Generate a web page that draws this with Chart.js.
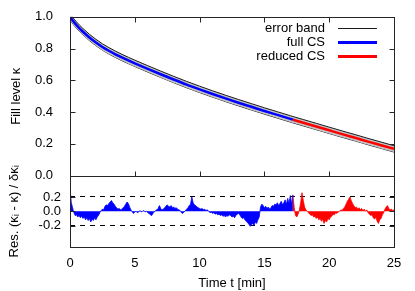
<!DOCTYPE html>
<html>
<head>
<meta charset="utf-8">
<script src="https://cdn.jsdelivr.net/npm/chart.js@4/dist/chart.umd.min.js"></script>
<style>
  html, body { margin: 0; padding: 0; background: #fff; }
  canvas { display: block; }
</style>
</head>
<body>
<canvas id="c" width="415" height="291"></canvas>
<script>
'use strict';

// ── Fill level κ(t) ───────────────────────────────────
const fitTime  = [0, 0.25, 0.5, 0.75, 1, 1.5, 2, 2.5, 3, 3.5, 4, 4.5, 5, 6, 7, 8, 9, 10,
                  11, 12, 13, 14, 15, 16, 17, 17.2, 18, 19, 20, 21, 22, 23, 24, 25];
const fitKappa = [1.000, 0.972, 0.948, 0.926, 0.906, 0.870, 0.838, 0.810, 0.786, 0.764, 0.744, 0.725,
                  0.707, 0.672, 0.638, 0.605, 0.573, 0.543, 0.514, 0.486, 0.459, 0.433, 0.407, 0.382,
                  0.357, 0.352, 0.333, 0.309, 0.285, 0.261, 0.238, 0.214, 0.191, 0.168];
const bandHigh = [1.020, 0.992, 0.968, 0.946, 0.926, 0.890, 0.858, 0.830, 0.806, 0.784, 0.764, 0.745,
                  0.727, 0.692, 0.658, 0.625, 0.593, 0.563, 0.534, 0.506, 0.479, 0.453, 0.427, 0.402,
                  0.377, 0.372, 0.353, 0.329, 0.305, 0.281, 0.258, 0.234, 0.211, 0.188];
const bandLow  = [0.980, 0.952, 0.928, 0.906, 0.886, 0.850, 0.818, 0.790, 0.766, 0.744, 0.724, 0.705,
                  0.687, 0.652, 0.618, 0.585, 0.553, 0.523, 0.494, 0.466, 0.439, 0.413, 0.387, 0.362,
                  0.337, 0.332, 0.313, 0.289, 0.265, 0.241, 0.218, 0.194, 0.171, 0.148];
const SWITCH_T = 17.2;   // full CS → reduced CS

// ── Residuals (κi - κ) / δκi ──────────────────────────
const resTime = [
  0.0, 0.1, 0.2, 0.3, 0.4, 0.5, 0.6, 0.7, 0.8, 0.9,
  1.0, 1.1, 1.2, 1.3, 1.4, 1.5, 1.6, 1.7, 1.8, 1.9,
  2.0, 2.1, 2.2, 2.3, 2.4, 2.5, 2.6, 2.7, 2.8, 2.9,
  3.0, 3.1, 3.2, 3.3, 3.4, 3.5, 3.6, 3.7, 3.8, 3.9,
  4.0, 4.1, 4.2, 4.3, 4.4, 4.5, 4.6, 4.7, 4.8, 4.9,
  5.0, 5.1, 5.2, 5.3, 5.4, 5.5, 5.6, 5.7, 5.8, 5.9,
  6.0, 6.1, 6.2, 6.3, 6.4, 6.5, 6.6, 6.7, 6.8, 6.9,
  7.0, 7.1, 7.2, 7.3, 7.4, 7.5, 7.6, 7.7, 7.8, 7.9,
  8.0, 8.1, 8.2, 8.3, 8.4, 8.5, 8.6, 8.7, 8.8, 8.9,
  9.0, 9.1, 9.2, 9.3, 9.4, 9.5, 9.6, 9.7, 9.8, 9.9,
  10.0, 10.1, 10.2, 10.3, 10.4, 10.5, 10.6, 10.7, 10.8, 10.9,
  11.0, 11.1, 11.2, 11.3, 11.4, 11.5, 11.6, 11.7, 11.8, 11.9,
  12.0, 12.1, 12.2, 12.3, 12.4, 12.5, 12.6, 12.7, 12.8, 12.9,
  13.0, 13.1, 13.2, 13.3, 13.4, 13.5, 13.6, 13.7, 13.8, 13.9,
  14.0, 14.1, 14.2, 14.3, 14.4, 14.5, 14.6, 14.7, 14.8, 14.9,
  15.0, 15.1, 15.2, 15.3, 15.4, 15.5, 15.6, 15.7, 15.8, 15.9,
  16.0, 16.1, 16.2, 16.3, 16.4, 16.5, 16.6, 16.7, 16.8, 16.9,
  17.0, 17.1, 17.2, 17.3, 17.4, 17.5, 17.6, 17.7, 17.8, 17.9,
  18.0, 18.1, 18.2, 18.3, 18.4, 18.5, 18.6, 18.7, 18.8, 18.9,
  19.0, 19.1, 19.2, 19.3, 19.4, 19.5, 19.6, 19.7, 19.8, 19.9,
  20.0, 20.1, 20.2, 20.3, 20.4, 20.5, 20.6, 20.7, 20.8, 20.9,
  21.0, 21.1, 21.2, 21.3, 21.4, 21.5, 21.6, 21.7, 21.8, 21.9,
  22.0, 22.1, 22.2, 22.3, 22.4, 22.5, 22.6, 22.7, 22.8, 22.9,
  23.0, 23.1, 23.2, 23.3, 23.4, 23.5, 23.6, 23.7, 23.8, 23.9,
  24.0, 24.1, 24.2, 24.3, 24.4, 24.5, 24.6, 24.7, 24.8, 24.9,
  25.0
];
const resValue = [
  0.33, 0.12, 0.05, -0.02, -0.06, -0.05, -0.08, -0.06, -0.09, -0.07,
  -0.10, -0.08, -0.12, -0.09, -0.13, -0.10, -0.15, -0.11, -0.13, -0.09,
  -0.12, -0.08, -0.06, -0.02, 0.01, 0.03, 0.02, 0.07, 0.09, 0.08,
  0.11, 0.13, 0.15, 0.12, 0.10, 0.07, 0.05, 0.03, 0.04, 0.02,
  0.03, 0.05, 0.07, 0.10, 0.13, 0.11, 0.06, 0.02, -0.01, -0.03,
  -0.01, 0.00, -0.02, -0.01, 0.01, -0.01, 0.00, 0.01, -0.01, 0.00,
  -0.02, -0.03, -0.05, -0.06, -0.03, -0.01, 0.01, 0.02, 0.04, 0.08,
  0.04, 0.02, 0.03, 0.05, 0.07, 0.09, 0.07, 0.06, 0.08, 0.05,
  0.06, 0.04, 0.05, 0.03, 0.02, 0.01, -0.02, -0.03, -0.01, 0.01,
  0.03, 0.05, 0.08, 0.10, 0.20, 0.12, 0.09, 0.08, 0.06, 0.05,
  0.04, 0.03, 0.04, 0.02, 0.03, 0.01, 0.02, 0.00, -0.02, -0.01,
  -0.03, -0.02, -0.04, -0.03, -0.05, -0.04, -0.06, -0.05, -0.07, -0.06,
  -0.08, -0.06, -0.07, -0.05, -0.06, -0.08, -0.07, -0.09, -0.06, -0.04,
  -0.03, -0.05, -0.08, -0.10, -0.09, -0.12, -0.14, -0.16, -0.18, -0.21,
  -0.19, -0.17, -0.20, -0.15, -0.17, -0.12, -0.08, 0.06, 0.10, 0.08,
  0.05, 0.07, 0.04, 0.06, 0.03, 0.05, 0.08, 0.07, 0.10, 0.09,
  0.12, 0.08, 0.11, 0.14, 0.09, 0.12, 0.16, 0.10, 0.18, 0.11,
  0.22, 0.10, 0.23, 0.05, -0.06, -0.08, -0.04, 0.02, 0.12, 0.26,
  0.15, 0.06, 0.02, 0.00, -0.02, -0.04, -0.06, -0.05, -0.08, -0.07,
  -0.10, -0.08, -0.12, -0.10, -0.14, -0.11, -0.17, -0.13, -0.15, -0.10,
  -0.12, -0.08, -0.07, -0.04, -0.05, -0.02, -0.03, -0.01, 0.00, 0.02,
  0.01, 0.04, 0.06, 0.10, 0.14, 0.17, 0.20, 0.15, 0.11, 0.08,
  0.05, 0.06, 0.03, 0.05, 0.02, 0.04, 0.01, 0.03, 0.00, 0.02,
  -0.02, -0.04, -0.06, -0.05, -0.09, -0.11, -0.08, -0.14, -0.17, -0.12,
  -0.10, -0.05, -0.02, 0.03, 0.06, 0.08, 0.04, 0.02, 0.03, 0.01,
  0.02
];

// ── Ticks / legend ────────────────────────────────────
const timeTicks  = [0, 5, 10, 15, 20, 25];
const kappaTicks = [0, 0.2, 0.4, 0.6, 0.8, 1.0];
const resTicks   = [-0.2, 0, 0.2];
const legendItems = [
  { text: 'error band', color: '#1a1a1a', width: 1.2 },
  { text: 'full CS',    color: '#0000ff', width: 3 },
  { text: 'reduced CS', color: '#ff0000', width: 3 },
];

const FONT = "'Liberation Sans', Arial, sans-serif";
const BLUE = '#0000ff';
const RED  = '#ff0000';

function pts(xs, ys, keep) {
  const out = [];
  xs.forEach((x, i) => { if (!keep || keep(x)) out.push({ x, y: ys[i] }); });
  return out;
}

const fullCS     = pts(fitTime, fitKappa, t => t <= SWITCH_T);
const reducedCS  = pts(fitTime, fitKappa, t => t >= SWITCH_T);
const resFull    = pts(resTime, resValue, t => t <= SWITCH_T + 1e-9);
const resReduced = pts(resTime, resValue, t => t >= SWITCH_T - 1e-9);

// ── Frame, inward ticks, legend ───────────────────────
const framePlugin = {
  id: 'frame',
  afterDatasetsDraw(c) {
    const { ctx } = c;
    const sx = c.scales.x, sy = c.scales.y, sr = c.scales.res;
    const px = v => Math.round(v) + 0.5;
    const L = px(c.chartArea.left), R = px(c.chartArea.right);
    const T = px(sy.top), S = px(sy.bottom), B = px(sr.bottom);

    ctx.save();
    ctx.strokeStyle = '#262626';
    ctx.lineWidth = 1;
    ctx.strokeRect(L, T, R - L, S - T);
    ctx.strokeRect(L, S, R - L, B - S);

    ctx.beginPath();
    timeTicks.slice(1, -1).forEach(t => {
      const x = px(sx.getPixelForValue(t));
      ctx.moveTo(x, T); ctx.lineTo(x, T + 5);
      ctx.moveTo(x, S); ctx.lineTo(x, S - 5);
    });
    kappaTicks.slice(1, -1).forEach(v => {
      const y = px(sy.getPixelForValue(v));
      ctx.moveTo(L, y); ctx.lineTo(L + 5, y);
      ctx.moveTo(R, y); ctx.lineTo(R - 5, y);
    });
    resTicks.forEach(v => {
      const y = px(sr.getPixelForValue(v));
      ctx.moveTo(L, y); ctx.lineTo(L + 5, y);
      ctx.moveTo(R, y); ctx.lineTo(R - 5, y);
    });
    ctx.stroke();

    // legend, gnuplot style: text right-aligned, sample on the right
    ctx.font = `13px ${FONT}`;
    ctx.textAlign = 'right';
    ctx.textBaseline = 'middle';
    legendItems.forEach((it, i) => {
      const y = T + 10.5 + i * 14.2;
      ctx.fillStyle = '#000';
      ctx.fillText(it.text, 325, y);
      ctx.beginPath();
      ctx.strokeStyle = it.color;
      ctx.lineWidth = it.width;
      ctx.moveTo(338, Math.round(y) + 0.5);
      ctx.lineTo(377, Math.round(y) + 0.5);
      ctx.stroke();
    });
    ctx.restore();
  }
};

Chart.defaults.font.family = FONT;
Chart.defaults.font.size = 13;
Chart.defaults.color = '#000';

new Chart(document.getElementById('c'), {
  type: 'line',
  data: {
    datasets: [
      // lower `order` is drawn on top
      { data: fullCS,    yAxisID: 'y', borderColor: BLUE, borderWidth: 2.5, fill: false, order: 1,
        cubicInterpolationMode: 'monotone' },
      { data: reducedCS, yAxisID: 'y', borderColor: RED,  borderWidth: 2.5, fill: false, order: 1,
        cubicInterpolationMode: 'monotone' },
      { data: pts(fitTime, bandHigh), yAxisID: 'y', borderColor: '#1a1a1a', borderWidth: 1,
        backgroundColor: '#c4c4c4', fill: '+1', order: 5, cubicInterpolationMode: 'monotone' },
      { data: pts(fitTime, bandLow),  yAxisID: 'y', borderColor: '#1a1a1a', borderWidth: 1,
        fill: false, order: 5, cubicInterpolationMode: 'monotone' },
      { data: resFull,    yAxisID: 'res', borderColor: BLUE, backgroundColor: BLUE, borderWidth: 0.8,
        fill: 'origin', order: 3 },
      { data: resReduced, yAxisID: 'res', borderColor: RED,  backgroundColor: RED,  borderWidth: 0.8,
        fill: 'origin', order: 3 },
    ],
  },
  options: {
    responsive: false,
    animation: false,
    devicePixelRatio: 1,
    layout: { padding: { left: 0, right: 21, top: 15, bottom: 0 } },
    elements: { point: { radius: 0 }, line: { tension: 0 } },
    plugins: { legend: { display: false }, tooltip: { enabled: false } },
    scales: {
      x: {
        type: 'linear', min: 0, max: 25,
        grid: { display: false }, border: { display: false },
        afterBuildTicks: s => { s.ticks = timeTicks.map(value => ({ value })); },
        ticks: { padding: 1, maxRotation: 0, color: '#000' },
        title: { display: true, text: 'Time t [min]', padding: { top: 4, bottom: 0 } },
        afterFit: s => { s.height = 44; },
      },
      res: {
        type: 'linear', position: 'left', stack: 'panels', stackWeight: 72,
        min: -0.5, max: 0.5,
        afterBuildTicks: s => { s.ticks = resTicks.map(value => ({ value })); },
        grid: {
          drawTicks: false, lineWidth: 1,
          color: ctx => (ctx.tick && ctx.tick.value !== 0) ? '#000' : 'rgba(0,0,0,0)',
        },
        border: { display: false, dash: [5, 5] },
        ticks: { padding: 9, callback: v => v.toFixed(1) },
        title: { display: true, text: 'Res. (κᵢ - κ) / δκᵢ', padding: { top: 7 } },
        afterFit: s => { s.width = 70; },
      },
      y: {
        type: 'linear', position: 'left', stack: 'panels', stackWeight: 160,
        min: 0, max: 1,
        afterBuildTicks: s => { s.ticks = kappaTicks.map(value => ({ value })); },
        grid: { display: false }, border: { display: false },
        ticks: { padding: 9, callback: v => v.toFixed(1) },
        title: { display: true, text: 'Fill level κ', padding: { top: 9 } },
        afterFit: s => { s.width = 70; },
      },
    },
  },
  plugins: [framePlugin],
});
</script>
</body>
</html>
